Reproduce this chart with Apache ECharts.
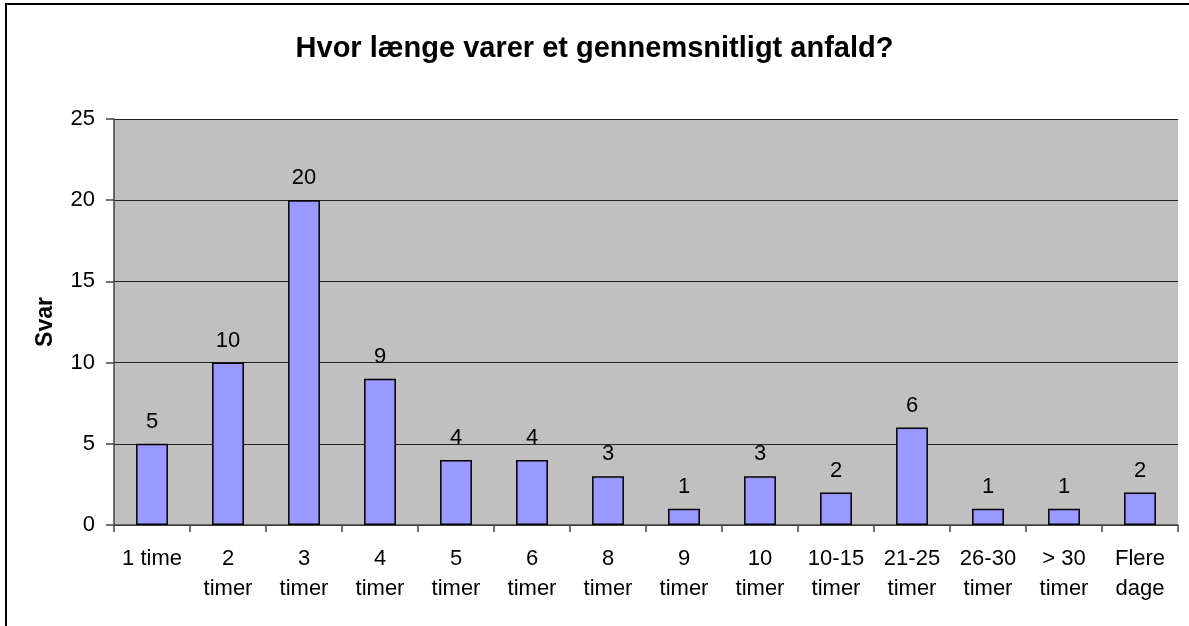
<!DOCTYPE html>
<html>
<head>
<meta charset="utf-8">
<script src="https://cdn.jsdelivr.net/npm/echarts@6/dist/echarts.min.js"></script>
<style>
  html, body { margin: 0; padding: 0; background: #fff; }
  #chart { width: 1189px; height: 626px; }
</style>
</head>
<body>
<div id="chart"></div>
<script>
var categories = ['1 time', '2\ntimer', '3\ntimer', '4\ntimer', '5\ntimer', '6\ntimer', '8\ntimer',
    '9\ntimer', '10\ntimer', '10-15\ntimer', '21-25\ntimer', '26-30\ntimer', '> 30\ntimer', 'Flere\ndage'];
var answers = [5, 10, 20, 9, 4, 4, 3, 1, 3, 2, 6, 1, 1, 2];
var yTicks = [0, 5, 10, 15, 20, 25];

var chartDom = document.getElementById('chart');
var myChart = echarts.init(chartDom);
var option;

option = {
    animation: false,
    textStyle: { fontFamily: 'Liberation Sans, Arial, sans-serif' },
    title: {
        text: 'Hvor længe varer et gennemsnitligt anfald?',
        left: 'center',
        top: 34,
        padding: 0,
        textStyle: { fontSize: 29, fontWeight: 'bold', color: '#000' }
    },
    graphic: [
        {
            type: 'rect',
            shape: { x: 6, y: 4, width: 1200, height: 640 },
            style: { fill: 'none', stroke: '#000', lineWidth: 2 },
            z: -1
        }
    ],
    grid: {
        left: 114,
        right: 11,
        top: 119,
        bottom: 101,
        show: true,
        backgroundColor: '#c0c0c0',
        borderWidth: 0
    },
    xAxis: {
        type: 'category',
        data: categories,
        axisLine: { lineStyle: { color: '#444', width: 1.5 } },
        axisTick: { show: true, length: 7, lineStyle: { color: '#444', width: 1.5 } },
        axisLabel: { color: '#000', fontSize: 22, lineHeight: 30, margin: 19, interval: 0 }
    },
    yAxis: {
        type: 'value',
        min: yTicks[0],
        max: yTicks[yTicks.length - 1],
        interval: 5,
        name: 'Svar',
        nameLocation: 'middle',
        nameGap: 57,
        nameTextStyle: { fontSize: 23, fontWeight: 'bold', color: '#000' },
        axisLine: { show: true, lineStyle: { color: '#444', width: 1.5 } },
        axisTick: { show: true, length: 8, lineStyle: { color: '#444', width: 1.5 } },
        axisLabel: { color: '#000', fontSize: 22, margin: 19 },
        splitLine: { lineStyle: { color: '#222', width: 1 } }
    },
    series: [
        {
            name: 'Svar',
            type: 'bar',
            barWidth: '42%',
            data: answers,
            itemStyle: {
                color: '#9999ff',
                borderColor: '#000',
                borderWidth: 1.5
            },
            label: {
                show: true,
                position: 'top',
                distance: 11,
                color: '#000',
                fontSize: 22
            }
        }
    ]
};

option && myChart.setOption(option);
</script>
</body>
</html>
